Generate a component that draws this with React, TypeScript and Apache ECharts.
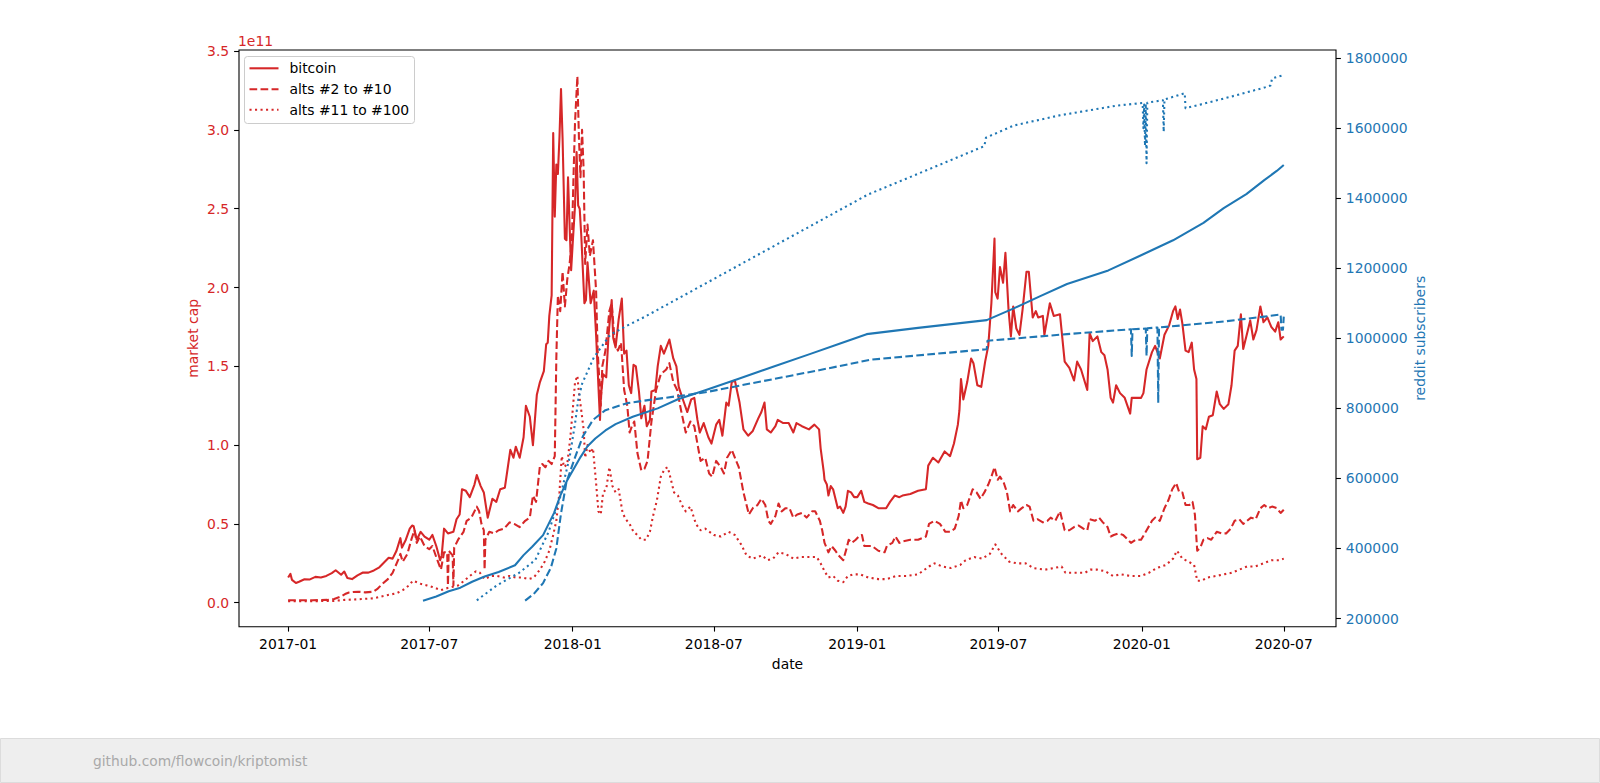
import React, { useEffect, useRef } from "react";
import * as echarts from "echarts";

type Pt = [string, number];

// market caps in units of 1e11 USD
const bitcoinCapE11: Pt[] = [
  ["2017-01-01",0.160],["2017-01-04",0.183],["2017-01-06",0.145],["2017-01-11",0.125],["2017-01-15",0.133],["2017-01-22",0.149],["2017-01-29",0.148],["2017-02-05",0.164],["2017-02-12",0.160],["2017-02-19",0.170],["2017-02-26",0.188],["2017-03-03",0.206],["2017-03-10",0.178],["2017-03-14",0.198],["2017-03-18",0.157],["2017-03-24",0.150],["2017-03-31",0.174],["2017-04-07",0.192],["2017-04-14",0.191],["2017-04-21",0.205],["2017-04-28",0.225],["2017-05-04",0.255],["2017-05-10",0.285],["2017-05-15",0.280],["2017-05-20",0.330],["2017-05-25",0.410],["2017-05-27",0.350],["2017-06-01",0.400],["2017-06-06",0.470],["2017-06-09",0.490],["2017-06-11",0.485],["2017-06-15",0.400],["2017-06-20",0.450],["2017-06-25",0.420],["2017-07-01",0.400],["2017-07-05",0.430],["2017-07-10",0.360],["2017-07-15",0.270],["2017-07-17",0.300],["2017-07-20",0.470],["2017-07-25",0.440],["2017-08-01",0.450],["2017-08-05",0.530],["2017-08-09",0.560],["2017-08-12",0.720],["2017-08-17",0.710],["2017-08-22",0.670],["2017-08-28",0.750],["2017-08-31",0.810],["2017-09-05",0.740],["2017-09-09",0.700],["2017-09-14",0.540],["2017-09-17",0.600],["2017-09-20",0.660],["2017-09-25",0.640],["2017-09-30",0.720],["2017-10-06",0.730],["2017-10-13",0.970],["2017-10-17",0.920],["2017-10-20",0.990],["2017-10-25",0.920],["2017-10-30",1.050],["2017-11-02",1.250],["2017-11-07",1.180],["2017-11-11",1.000],["2017-11-16",1.320],["2017-11-20",1.400],["2017-11-25",1.470],["2017-11-28",1.640],["2017-11-30",1.650],["2017-12-02",1.820],["2017-12-05",1.950],["2017-12-07",2.980],["2017-12-09",2.450],["2017-12-11",2.780],["2017-12-13",2.720],["2017-12-15",2.950],["2017-12-17",3.260],["2017-12-19",2.950],["2017-12-22",2.310],["2017-12-24",2.300],["2017-12-26",2.700],["2017-12-28",2.400],["2017-12-30",2.110],
  ["2018-01-01",2.28],["2018-01-04",2.52],["2018-01-06",2.86],["2018-01-08",2.52],["2018-01-10",2.50],["2018-01-12",2.33],["2018-01-16",1.90],["2018-01-18",1.92],["2018-01-20",2.16],["2018-01-24",1.90],["2018-01-28",1.98],["2018-01-31",1.70],["2018-02-02",1.48],["2018-02-05",1.16],["2018-02-06",1.30],["2018-02-09",1.45],["2018-02-13",1.43],["2018-02-16",1.70],["2018-02-20",1.92],["2018-02-22",1.68],["2018-02-25",1.62],["2018-03-01",1.80],["2018-03-05",1.93],["2018-03-08",1.58],["2018-03-11",1.60],["2018-03-14",1.38],["2018-03-17",1.33],["2018-03-20",1.51],["2018-03-23",1.50],["2018-03-27",1.34],["2018-03-30",1.17],["2018-04-03",1.25],["2018-04-06",1.12],["2018-04-10",1.16],["2018-04-12",1.34],["2018-04-17",1.35],["2018-04-20",1.50],["2018-04-24",1.63],["2018-04-28",1.58],["2018-05-05",1.67],["2018-05-10",1.55],["2018-05-14",1.50],["2018-05-17",1.37],["2018-05-23",1.28],["2018-05-28",1.21],["2018-06-02",1.29],["2018-06-06",1.30],["2018-06-10",1.16],["2018-06-13",1.08],["2018-06-18",1.14],["2018-06-24",1.05],["2018-06-28",1.01],["2018-07-04",1.13],["2018-07-08",1.16],["2018-07-12",1.06],["2018-07-17",1.27],["2018-07-20",1.25],["2018-07-24",1.40],["2018-07-28",1.41],["2018-08-03",1.27],["2018-08-08",1.10],["2018-08-14",1.06],["2018-08-20",1.09],["2018-08-27",1.17],["2018-08-31",1.21],["2018-09-04",1.27],["2018-09-07",1.10],["2018-09-12",1.08],["2018-09-18",1.12],["2018-09-21",1.16],["2018-09-28",1.14],["2018-10-05",1.14],["2018-10-11",1.08],["2018-10-15",1.14],["2018-10-22",1.12],["2018-10-31",1.10],["2018-11-07",1.13],["2018-11-13",1.10],["2018-11-15",0.98],["2018-11-19",0.83],["2018-11-20",0.78],["2018-11-23",0.75],["2018-11-25",0.68],["2018-11-28",0.74],["2018-12-01",0.72],["2018-12-07",0.60],["2018-12-10",0.61],["2018-12-14",0.57],["2018-12-17",0.61],["2018-12-20",0.71],["2018-12-24",0.70],["2018-12-28",0.67],
  ["2019-01-01",0.67],["2019-01-06",0.71],["2019-01-10",0.64],["2019-01-15",0.63],["2019-01-21",0.62],["2019-01-28",0.60],["2019-02-07",0.60],["2019-02-12",0.64],["2019-02-18",0.68],["2019-02-24",0.67],["2019-02-28",0.68],["2019-03-10",0.69],["2019-03-20",0.71],["2019-03-30",0.72],["2019-04-02",0.87],["2019-04-08",0.92],["2019-04-15",0.89],["2019-04-23",0.96],["2019-04-30",0.93],["2019-05-05",1.01],["2019-05-10",1.13],["2019-05-12",1.22],["2019-05-14",1.42],["2019-05-17",1.29],["2019-05-22",1.40],["2019-05-27",1.55],["2019-05-30",1.52],["2019-06-04",1.38],["2019-06-09",1.37],["2019-06-14",1.53],["2019-06-18",1.63],["2019-06-22",1.90],["2019-06-26",2.31],["2019-06-27",1.97],["2019-06-30",1.93],["2019-07-03",2.13],["2019-07-07",2.03],["2019-07-10",2.22],["2019-07-14",1.86],["2019-07-17",1.69],["2019-07-20",1.88],["2019-07-24",1.74],["2019-07-28",1.70],["2019-08-01",1.86],["2019-08-06",2.10],["2019-08-09",2.10],["2019-08-14",1.81],["2019-08-18",1.85],["2019-08-21",1.81],["2019-08-27",1.82],["2019-08-29",1.70],["2019-09-05",1.90],["2019-09-10",1.82],["2019-09-18",1.83],["2019-09-24",1.53],["2019-09-30",1.49],["2019-10-06",1.41],["2019-10-10",1.53],["2019-10-15",1.48],["2019-10-23",1.35],["2019-10-26",1.71],["2019-10-30",1.66],["2019-11-05",1.69],["2019-11-10",1.59],["2019-11-14",1.57],["2019-11-18",1.48],["2019-11-22",1.30],["2019-11-25",1.27],["2019-11-29",1.38],["2019-12-04",1.33],["2019-12-10",1.30],["2019-12-17",1.20],["2019-12-19",1.30],["2019-12-24",1.30],["2019-12-31",1.30],
  ["2020-01-03",1.33],["2020-01-07",1.48],["2020-01-14",1.59],["2020-01-18",1.63],["2020-01-24",1.55],["2020-01-30",1.70],["2020-02-05",1.76],["2020-02-10",1.85],["2020-02-13",1.88],["2020-02-16",1.80],["2020-02-19",1.86],["2020-02-22",1.77],["2020-02-26",1.60],["2020-03-01",1.59],["2020-03-05",1.65],["2020-03-08",1.48],["2020-03-11",1.42],["2020-03-12",0.91],["2020-03-16",0.92],["2020-03-19",1.12],["2020-03-23",1.10],["2020-03-27",1.18],["2020-04-01",1.19],["2020-04-06",1.34],["2020-04-10",1.26],["2020-04-15",1.23],["2020-04-21",1.26],["2020-04-25",1.38],["2020-04-29",1.60],["2020-05-03",1.63],["2020-05-07",1.83],["2020-05-10",1.61],["2020-05-15",1.71],["2020-05-19",1.79],["2020-05-23",1.67],["2020-05-27",1.73],["2020-06-01",1.88],["2020-06-05",1.78],["2020-06-10",1.81],["2020-06-15",1.75],["2020-06-20",1.72],["2020-06-24",1.78],["2020-06-27",1.67],["2020-07-01",1.69]
];

const alts2to10CapE11: Pt[] = [
  ["2017-01-01",0.016],["2017-02-01",0.016],["2017-02-20",0.018],["2017-03-01",0.024],["2017-03-10",0.040],["2017-03-15",0.055],["2017-03-20",0.065],["2017-03-25",0.068],["2017-04-01",0.070],["2017-04-10",0.066],["2017-04-20",0.070],["2017-04-26",0.090],["2017-05-02",0.120],["2017-05-09",0.150],["2017-05-15",0.190],["2017-05-22",0.270],["2017-05-25",0.310],["2017-05-28",0.260],["2017-06-03",0.310],["2017-06-08",0.400],["2017-06-12",0.460],["2017-06-15",0.380],["2017-06-19",0.420],["2017-06-25",0.360],["2017-07-01",0.340],["2017-07-05",0.360],["2017-07-10",0.290],["2017-07-16",0.210],["2017-07-20",0.320],["2017-07-24",0.320],["2017-07-25",0.110],["2017-07-26",0.330],["2017-07-31",0.300],["2017-08-01",0.110],["2017-08-02",0.350],["2017-08-07",0.400],["2017-08-14",0.450],["2017-08-18",0.520],["2017-08-24",0.540],["2017-08-31",0.610],["2017-09-03",0.580],["2017-09-06",0.500],["2017-09-09",0.460],["2017-09-10",0.210],["2017-09-11",0.400],["2017-09-16",0.450],["2017-09-22",0.440],["2017-09-28",0.460],["2017-10-05",0.470],["2017-10-12",0.510],["2017-10-18",0.500],["2017-10-25",0.480],["2017-11-01",0.520],["2017-11-07",0.540],["2017-11-11",0.680],["2017-11-15",0.640],["2017-11-20",0.870],["2017-11-23",0.880],["2017-11-27",0.860],["2017-12-01",0.900],["2017-12-05",0.880],["2017-12-09",0.930],["2017-12-11",1.550],["2017-12-13",1.950],["2017-12-16",1.850],["2017-12-19",2.100],["2017-12-22",1.880],["2017-12-25",2.050],["2017-12-28",2.150],["2017-12-31",2.300],
  ["2018-01-02",2.700],["2018-01-04",3.050],["2018-01-07",3.340],["2018-01-09",2.950],["2018-01-11",2.700],["2018-01-13",3.000],["2018-01-15",2.750],["2018-01-17",2.150],["2018-01-20",2.400],["2018-01-23",2.200],["2018-01-27",2.300],["2018-01-31",1.980],["2018-02-02",1.600],["2018-02-06",1.250],["2018-02-08",1.500],["2018-02-12",1.600],["2018-02-17",1.850],["2018-02-20",1.900],["2018-02-24",1.650],["2018-02-28",1.600],["2018-03-04",1.650],["2018-03-08",1.350],["2018-03-12",1.250],["2018-03-15",1.080],["2018-03-18",1.120],["2018-03-21",1.150],["2018-03-25",0.950],["2018-03-30",0.840],["2018-04-03",0.850],["2018-04-07",0.900],["2018-04-12",1.150],["2018-04-18",1.350],["2018-04-24",1.450],["2018-05-01",1.480],["2018-05-05",1.520],["2018-05-10",1.400],["2018-05-15",1.350],["2018-05-20",1.220],["2018-05-26",1.080],["2018-06-01",1.150],["2018-06-06",1.120],["2018-06-11",0.980],["2018-06-14",0.900],["2018-06-20",0.920],["2018-06-25",0.820],["2018-06-29",0.800],["2018-07-04",0.900],["2018-07-10",0.860],["2018-07-14",0.820],["2018-07-18",0.920],["2018-07-24",0.970],["2018-07-28",0.920],["2018-08-02",0.860],["2018-08-08",0.700],["2018-08-12",0.620],["2018-08-15",0.560],["2018-08-20",0.600],["2018-08-26",0.620],["2018-08-31",0.660],["2018-09-05",0.620],["2018-09-09",0.520],["2018-09-12",0.500],["2018-09-18",0.550],["2018-09-22",0.630],["2018-09-26",0.580],["2018-10-01",0.600],["2018-10-06",0.600],["2018-10-11",0.540],["2018-10-16",0.560],["2018-10-22",0.570],["2018-10-28",0.540],["2018-11-04",0.580],["2018-11-08",0.580],["2018-11-14",0.520],["2018-11-17",0.460],["2018-11-20",0.380],["2018-11-25",0.320],["2018-11-29",0.360],["2018-12-04",0.330],["2018-12-08",0.300],["2018-12-14",0.270],["2018-12-18",0.340],["2018-12-21",0.400],["2018-12-25",0.380],["2018-12-30",0.400],
  ["2019-01-03",0.420],["2019-01-07",0.430],["2019-01-10",0.360],["2019-01-15",0.360],["2019-01-20",0.360],["2019-01-28",0.330],["2019-02-05",0.320],["2019-02-08",0.360],["2019-02-15",0.380],["2019-02-19",0.420],["2019-02-24",0.380],["2019-03-01",0.390],["2019-03-10",0.400],["2019-03-20",0.400],["2019-03-30",0.420],["2019-04-03",0.500],["2019-04-10",0.520],["2019-04-17",0.500],["2019-04-24",0.450],["2019-04-30",0.450],["2019-05-06",0.470],["2019-05-11",0.550],["2019-05-14",0.650],["2019-05-17",0.600],["2019-05-22",0.620],["2019-05-29",0.720],["2019-06-03",0.700],["2019-06-08",0.660],["2019-06-13",0.700],["2019-06-18",0.750],["2019-06-22",0.800],["2019-06-26",0.860],["2019-06-30",0.780],["2019-07-03",0.800],["2019-07-08",0.760],["2019-07-12",0.700],["2019-07-16",0.580],["2019-07-20",0.620],["2019-07-26",0.580],["2019-07-31",0.600],["2019-08-06",0.620],["2019-08-10",0.610],["2019-08-15",0.520],["2019-08-20",0.530],["2019-08-27",0.510],["2019-09-02",0.520],["2019-09-06",0.540],["2019-09-12",0.520],["2019-09-18",0.580],["2019-09-24",0.460],["2019-09-30",0.460],["2019-10-06",0.480],["2019-10-12",0.490],["2019-10-18",0.470],["2019-10-23",0.460],["2019-10-26",0.530],["2019-11-02",0.520],["2019-11-07",0.540],["2019-11-12",0.510],["2019-11-18",0.480],["2019-11-22",0.420],["2019-11-26",0.430],["2019-12-02",0.440],["2019-12-08",0.430],["2019-12-14",0.400],["2019-12-18",0.380],["2019-12-24",0.400],["2019-12-31",0.400],
  ["2020-01-06",0.450],["2020-01-14",0.520],["2020-01-18",0.540],["2020-01-24",0.520],["2020-01-30",0.600],["2020-02-04",0.650],["2020-02-09",0.720],["2020-02-14",0.760],["2020-02-18",0.700],["2020-02-22",0.700],["2020-02-26",0.620],["2020-03-02",0.620],["2020-03-06",0.640],["2020-03-09",0.560],["2020-03-12",0.330],["2020-03-16",0.350],["2020-03-20",0.400],["2020-03-25",0.410],["2020-03-30",0.400],["2020-04-06",0.450],["2020-04-12",0.440],["2020-04-18",0.440],["2020-04-24",0.470],["2020-04-29",0.520],["2020-05-05",0.530],["2020-05-10",0.500],["2020-05-15",0.520],["2020-05-20",0.540],["2020-05-26",0.530],["2020-06-01",0.600],["2020-06-06",0.620],["2020-06-11",0.600],["2020-06-16",0.610],["2020-06-22",0.600],["2020-06-27",0.570],["2020-07-01",0.590]
];

const alts11to100CapE11: Pt[] = [
  ["2017-01-01",0.010],["2017-02-01",0.010],["2017-03-01",0.012],["2017-03-15",0.018],["2017-04-01",0.022],["2017-04-20",0.028],["2017-05-05",0.045],["2017-05-20",0.060],["2017-05-28",0.080],["2017-06-05",0.110],["2017-06-10",0.140],["2017-06-20",0.120],["2017-06-28",0.110],["2017-07-05",0.100],["2017-07-16",0.080],["2017-07-22",0.090],["2017-07-30",0.100],["2017-08-07",0.110],["2017-08-15",0.140],["2017-08-22",0.170],["2017-08-30",0.200],["2017-09-04",0.190],["2017-09-10",0.150],["2017-09-18",0.170],["2017-09-26",0.170],["2017-10-05",0.160],["2017-10-12",0.170],["2017-10-20",0.160],["2017-10-28",0.160],["2017-11-05",0.150],["2017-11-12",0.160],["2017-11-20",0.210],["2017-11-26",0.260],["2017-12-02",0.330],["2017-12-07",0.430],["2017-12-11",0.520],["2017-12-15",0.700],["2017-12-18",0.930],["2017-12-21",0.860],["2017-12-25",0.880],["2017-12-29",1.050],
  ["2018-01-01",1.220],["2018-01-04",1.400],["2018-01-07",1.440],["2018-01-09",1.330],["2018-01-12",1.220],["2018-01-15",1.100],["2018-01-17",0.920],["2018-01-20",1.000],["2018-01-24",0.950],["2018-01-27",0.980],["2018-01-31",0.760],["2018-02-03",0.580],["2018-02-06",0.560],["2018-02-09",0.700],["2018-02-13",0.720],["2018-02-17",0.860],["2018-02-21",0.740],["2018-02-25",0.700],["2018-03-01",0.720],["2018-03-06",0.570],["2018-03-10",0.530],["2018-03-15",0.500],["2018-03-20",0.450],["2018-03-25",0.430],["2018-03-30",0.400],["2018-04-05",0.400],["2018-04-10",0.450],["2018-04-14",0.550],["2018-04-19",0.650],["2018-04-24",0.800],["2018-04-29",0.850],["2018-05-03",0.860],["2018-05-07",0.780],["2018-05-11",0.700],["2018-05-16",0.680],["2018-05-21",0.620],["2018-05-26",0.580],["2018-06-01",0.610],["2018-06-08",0.500],["2018-06-14",0.460],["2018-06-20",0.470],["2018-07-01",0.430],["2018-07-10",0.420],["2018-07-20",0.450],["2018-07-28",0.430],["2018-08-05",0.370],["2018-08-12",0.300],["2018-08-20",0.280],["2018-09-01",0.300],["2018-09-08",0.270],["2018-09-15",0.280],["2018-09-22",0.320],["2018-10-01",0.310],["2018-10-11",0.280],["2018-10-20",0.290],["2018-11-01",0.290],["2018-11-10",0.290],["2018-11-15",0.250],["2018-11-20",0.200],["2018-11-25",0.160],["2018-12-01",0.170],["2018-12-07",0.140],["2018-12-14",0.130],["2018-12-20",0.170],["2018-12-27",0.180],
  ["2019-01-05",0.180],["2019-01-15",0.160],["2019-01-28",0.150],["2019-02-08",0.150],["2019-02-20",0.170],["2019-03-05",0.170],["2019-03-20",0.180],["2019-04-03",0.230],["2019-04-10",0.250],["2019-04-20",0.230],["2019-05-01",0.220],["2019-05-13",0.240],["2019-05-20",0.270],["2019-05-31",0.290],["2019-06-10",0.280],["2019-06-20",0.310],["2019-06-27",0.370],["2019-07-05",0.310],["2019-07-15",0.260],["2019-07-25",0.250],["2019-08-05",0.250],["2019-08-15",0.220],["2019-08-30",0.210],["2019-09-10",0.220],["2019-09-20",0.230],["2019-09-25",0.190],["2019-10-05",0.190],["2019-10-20",0.190],["2019-10-27",0.210],["2019-11-05",0.210],["2019-11-15",0.200],["2019-11-25",0.170],["2019-12-05",0.180],["2019-12-18",0.170],["2019-12-31",0.170],
  ["2020-01-10",0.190],["2020-01-20",0.220],["2020-02-01",0.240],["2020-02-10",0.280],["2020-02-15",0.330],["2020-02-22",0.280],["2020-03-01",0.260],["2020-03-08",0.240],["2020-03-12",0.140],["2020-03-18",0.140],["2020-03-25",0.160],["2020-04-05",0.170],["2020-04-15",0.180],["2020-04-25",0.190],["2020-05-05",0.210],["2020-05-15",0.230],["2020-05-25",0.230],["2020-06-05",0.250],["2020-06-15",0.270],["2020-06-25",0.270],["2020-07-01",0.280]
];

// reddit subscribers (right axis)
const subsSolid: Pt[] = [
  ["2017-06-23",251000],["2017-07-10",263000],["2017-07-26",278000],["2017-08-10",288000],["2017-08-25",305000],["2017-09-10",320000],["2017-09-28",333000],["2017-10-19",352000],["2017-10-30",381000],["2017-11-10",405000],["2017-11-24",438000],["2017-12-08",501000],["2017-12-16",550000],["2017-12-25",595000],["2018-01-11",661000],["2018-01-20",692000],["2018-01-30",714000],["2018-02-12",737000],["2018-02-25",755000],["2018-03-19",776000],["2018-04-20",800000],["2018-05-16",826000],["2018-06-20",852000],["2018-08-01",884000],["2018-09-15",919000],["2018-11-01",955000],["2018-12-10",985000],["2019-01-13",1012000],["2019-03-20",1030000],["2019-06-16",1052000],["2019-07-20",1085000],["2019-08-23",1120000],["2019-09-27",1155000],["2019-11-19",1194000],["2019-12-29",1235000],["2020-02-10",1280000],["2020-03-20",1330000],["2020-04-15",1372000],["2020-05-14",1412000],["2020-06-06",1452000],["2020-06-22",1478000],["2020-07-01",1495000]
];

const subsDashed: Pt[] = [
  ["2017-11-01",251000],["2017-11-12",270000],["2017-11-24",301000],["2017-12-04",345000],["2017-12-11",400000],["2017-12-17",500000],["2017-12-24",590000],["2018-01-04",660000],["2018-01-14",720000],["2018-01-27",767000],["2018-02-12",795000],["2018-03-12",815000],["2018-04-12",825000],["2018-05-26",838000],["2018-06-20",846000],["2018-11-13",909000],["2019-01-18",939000],["2019-06-16",969000],["2019-06-17",993000],["2019-09-27",1012000],["2019-12-18",1026000],["2019-12-19",950000],["2019-12-20",1026000],["2020-01-06",1028000],["2020-01-07",950000],["2020-01-08",1029000],["2020-01-21",1031000],["2020-01-22",816000],["2020-01-23",1031000],["2020-04-15",1048000],["2020-06-27",1068000],["2020-06-28",1025000],["2020-06-30",1025000],["2020-07-01",1062000]
];

const subsDotted: Pt[] = [
  ["2017-08-31",252000],["2017-09-26",295000],["2017-10-24",330000],["2017-11-14",367000],["2017-12-01",447000],["2017-12-16",547000],["2017-12-28",660000],["2018-01-04",757000],["2018-01-08",823000],["2018-01-13",870000],["2018-01-28",945000],["2018-02-18",1010000],["2018-03-08",1032000],["2018-04-03",1061000],["2019-01-15",1411000],["2019-03-20",1470000],["2019-06-13",1549000],["2019-06-15",1573000],["2019-07-21",1608000],["2019-09-18",1637000],["2019-12-01",1665000],["2020-01-02",1672000],["2020-01-03",1600000],["2020-01-04",1668000],["2020-01-05",1550000],["2020-01-06",1670000],["2020-01-07",1500000],["2020-01-08",1673000],["2020-01-28",1680000],["2020-01-29",1590000],["2020-01-30",1682000],["2020-02-25",1700000],["2020-02-26",1657000],["2020-03-20",1670000],["2020-04-24",1690000],["2020-06-06",1716000],["2020-06-14",1722000],["2020-06-16",1742000],["2020-07-01",1752000]
];

const xTickDates = ["2017-01-01","2017-07-01","2018-01-01","2018-07-01","2019-01-01","2019-07-01","2020-01-01","2020-07-01"];
const capTicksE11 = [0, 0.5, 1, 1.5, 2, 2.5, 3, 3.5];
const subscriberTicks = [200000, 400000, 600000, 800000, 1000000, 1200000, 1400000, 1600000, 1800000];
const legendLabels = ["bitcoin", "alts #2 to #10", "alts #11 to #100"];

const RED = "#d62728";
const BLUE = "#1f77b4";
const FONT = "DejaVu Sans";
const FS = 13.9;
const LW = 2.08;
const DASH = [7.7, 3.33];
const DOT = [2.08, 3.43];

const ts = (s: string) => {
  const [y, m, d] = s.split("-").map(Number);
  return new Date(y, m - 1, d).getTime();
};

function lineSeries(name: string, data: Pt[], scale: number, yAxisIndex: number, color: string, type: any) {
  return {
    name,
    type: "line",
    yAxisIndex,
    data: data.map(([d, v]) => [ts(d), v * scale]),
    showSymbol: false,
    symbol: "none",
    silent: true,
    lineStyle: { color, width: LW, type, join: "round", cap: "butt" },
    itemStyle: { color },
  };
}

export default function App() {
  const ref = useRef<HTMLDivElement>(null);
  useEffect(() => {
    document.body.style.margin = "0";
    document.body.style.overflow = "hidden";
    const chart = echarts.init(ref.current!, undefined, { renderer: "svg" });
    const gridL = 239, gridR = 1336, gridT = 50, gridB = 626.7;
    const legendRows = [68.3, 89.3, 109.8];
    const legendTypes: any[] = [null, DASH, DOT];
    const tStyle = (text: string, fill: string, align: string, fontSize = FS) => ({
      text, fill, fontSize, fontFamily: FONT, align, verticalAlign: "middle", textAlign: align, textVerticalAlign: "middle",
    });
    const graphic: any[] = [
      { type: "text", x: 238, y: 40.5, z: 100, style: tStyle("1e11", RED, "left") },
      { type: "text", x: 192.5, y: (gridT + gridB) / 2, rotation: Math.PI / 2, z: 100, style: tStyle("market cap", RED, "center") },
      { type: "text", x: 1420, y: (gridT + gridB) / 2, rotation: Math.PI / 2, z: 100, style: tStyle("reddit subscribers", BLUE, "center") },
      { type: "text", x: (gridL + gridR) / 2, y: 664, z: 100, style: tStyle("date", "#000", "center") },
      { type: "rect", z: 100, shape: { x: 244.5, y: 56.5, width: 170, height: 67, r: 3 }, style: { fill: "rgba(255,255,255,0.8)", stroke: "#cccccc", lineWidth: 1 } },
      { type: "rect", z: 100, shape: { x: 0.5, y: 738.5, width: 1599, height: 44 }, style: { fill: "#eeeeee", stroke: "#dcdcdc", lineWidth: 1 } },
      { type: "text", x: 93, y: 761, z: 101, style: tStyle("github.com/flowcoin/kriptomist", "#a9a9a9", "left", 13.8) },
    ];
    legendLabels.forEach((label, i) => {
      const y = legendRows[i];
      const lineStyle: any = { stroke: RED, lineWidth: LW };
      if (legendTypes[i]) lineStyle.lineDash = legendTypes[i];
      graphic.push({ type: "line", z: 101, shape: { x1: 249.5, y1: y, x2: 278.5, y2: y }, style: lineStyle });
      graphic.push({ type: "text", x: 289.5, y, z: 101, style: tStyle(label, "#000", "left") });
    });

    const tickStyle = { show: true, inside: false, length: 4.9, lineStyle: { color: "#000", width: 1.1 } };
    const xTicks = xTickDates.map(ts);
    const option: any = {
      animation: false,
      textStyle: { fontFamily: FONT },
      grid: { left: gridL, right: 1600 - gridR, top: gridT, bottom: 783 - gridB, show: true, borderColor: "#000", borderWidth: 1.1, backgroundColor: "transparent", containLabel: false },
      xAxis: {
        type: "value",
        position: "bottom",
        min: ts("2016-10-30"),
        max: ts("2020-09-06"),
        axisLine: { show: false, onZero: false },
        splitLine: { show: false },
        axisTick: { ...tickStyle, customValues: xTicks },
        axisLabel: {
          customValues: xTicks,
          color: "#000", fontSize: FS, fontFamily: FONT, margin: 9.8,
          formatter: (v: number) => { const d = new Date(v); return d.getFullYear() + "-" + String(d.getMonth() + 1).padStart(2, "0"); },
        },
      },
      yAxis: [
        {
          type: "value",
          position: "left",
          min: -0.152e11,
          max: 3.507e11,
          axisLine: { show: false, onZero: false },
          splitLine: { show: false },
          axisTick: { ...tickStyle, customValues: capTicksE11.map((v) => v * 1e11) },
          axisLabel: { customValues: capTicksE11.map((v) => v * 1e11), color: RED, fontSize: FS, fontFamily: FONT, margin: 9.8, formatter: (v: number) => (v / 1e11).toFixed(1) },
        },
        {
          type: "value",
          position: "right",
          min: 176600,
          max: 1823400,
          axisLine: { show: false, onZero: false },
          splitLine: { show: false },
          axisTick: { ...tickStyle, customValues: subscriberTicks },
          axisLabel: { customValues: subscriberTicks, color: BLUE, fontSize: FS, fontFamily: FONT, margin: 9.8, formatter: (v: number) => String(Math.round(v)) },
        },
      ],
      series: [
        lineSeries("bitcoin", bitcoinCapE11, 1e11, 0, RED, "solid"),
        lineSeries("alts #2 to #10", alts2to10CapE11, 1e11, 0, RED, DASH),
        lineSeries("alts #11 to #100", alts11to100CapE11, 1e11, 0, RED, DOT),
        lineSeries("reddit subscribers (solid)", subsSolid, 1, 1, BLUE, "solid"),
        lineSeries("reddit subscribers (dashed)", subsDashed, 1, 1, BLUE, DASH),
        lineSeries("reddit subscribers (dotted)", subsDotted, 1, 1, BLUE, DOT),
      ],
      graphic: { elements: graphic },
    };
    chart.setOption(option);
    return () => chart.dispose();
  }, []);
  return <div ref={ref} style={{ position: "absolute", left: 0, top: 0, width: 1600, height: 783, background: "#fff" }} />;
}
